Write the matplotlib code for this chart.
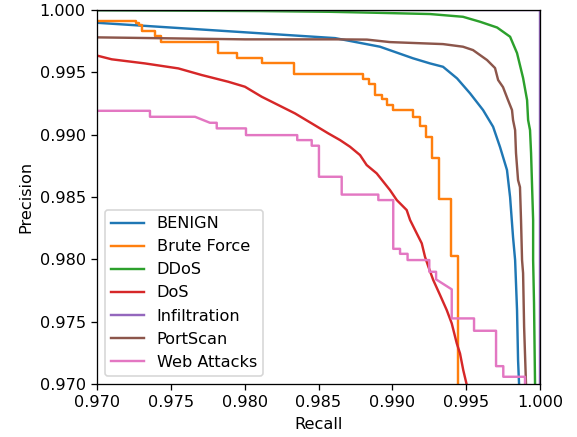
import numpy as np
import matplotlib
matplotlib.use('Agg')
import matplotlib.pyplot as plt

# precision-recall curves, values
benign_r = [0.960, 0.970, 0.98612, 0.98916, 0.99140, 0.99255, 0.99343, 0.99438, 0.99526,
            0.99614, 0.99682, 0.99729, 0.99776, 0.99797, 0.99817, 0.99831, 0.99844,
            0.99851, 0.99858, 0.99870]
benign_p = [0.99960, 0.99898, 0.99775, 0.99706, 0.99613, 0.99572, 0.99545, 0.99452, 0.99332,
            0.99198, 0.99064, 0.98901, 0.98717, 0.98500, 0.98179, 0.97995, 0.97594,
            0.97193, 0.96992, 0.96000]

bf_r = [0.960, 0.97264, 0.97264, 0.97284, 0.97284, 0.97303, 0.97303, 0.97393, 0.97393,
        0.97433, 0.97433, 0.97821, 0.97821, 0.97950, 0.97950, 0.98115, 0.98115,
        0.98334, 0.98334, 0.98803, 0.98803, 0.98844, 0.98844, 0.98883, 0.98883,
        0.98928, 0.98928, 0.98966, 0.98966, 0.99006, 0.99006, 0.99140, 0.99140,
        0.99184, 0.99184, 0.99228, 0.99228, 0.99269, 0.99269, 0.99314, 0.99314,
        0.99399, 0.99399, 0.99443, 0.99443]
bf_p = [0.99914, 0.99914, 0.99897, 0.99897, 0.99880, 0.99880, 0.99834, 0.99834, 0.99791,
        0.99791, 0.99741, 0.99741, 0.99658, 0.99658, 0.99613, 0.99613, 0.99572,
        0.99572, 0.99487, 0.99487, 0.99444, 0.99444, 0.99406, 0.99406, 0.99318,
        0.99318, 0.99284, 0.99284, 0.99238, 0.99238, 0.99198, 0.99198, 0.99142,
        0.99142, 0.99070, 0.99070, 0.98984, 0.98984, 0.98817, 0.98817, 0.98482,
        0.98482, 0.98027, 0.98027, 0.96000]

ddos_r = [0.960, 0.970, 0.98104, 0.98578, 0.98896, 0.99255, 0.99478, 0.99594, 0.99709,
          0.99797, 0.99844, 0.99885, 0.99912, 0.99919, 0.99932, 0.99939, 0.99946,
          0.99953, 0.99953, 0.99959, 0.99966, 0.99970]
ddos_p = [1.00000, 0.99998, 0.99992, 0.99986, 0.99978, 0.99968, 0.99946, 0.99906, 0.99860,
          0.99786, 0.99655, 0.99455, 0.99278, 0.99118, 0.99037, 0.98853, 0.98580,
          0.98316, 0.97995, 0.97650, 0.96992, 0.96000]

dos_r = [0.960, 0.970, 0.97100, 0.97325, 0.97551, 0.97709, 0.97889, 0.98002, 0.98115,
         0.98228, 0.98341, 0.98454, 0.98566, 0.98646, 0.98713, 0.98781, 0.98826,
         0.98894, 0.98939, 0.98984, 0.99030, 0.99097, 0.99120, 0.99165, 0.99199,
         0.99221, 0.99244, 0.99277, 0.99323, 0.99368, 0.99402, 0.99436, 0.99458,
         0.99480, 0.99504, 0.99520]
dos_p = [0.99700, 0.99635, 0.99605, 0.99572, 0.99532, 0.99479, 0.99425, 0.99385, 0.99305,
         0.99238, 0.99171, 0.99091, 0.99011, 0.98957, 0.98904, 0.98837, 0.98757,
         0.98690, 0.98623, 0.98556, 0.98476, 0.98396, 0.98316, 0.98209, 0.98129,
         0.98021, 0.97941, 0.97834, 0.97714, 0.97594, 0.97487, 0.97327, 0.97246,
         0.97112, 0.96992, 0.96000]

infil_r = [0.0, 1.0, 1.0]
infil_p = [1.0, 1.0, 0.0]

ps_r = [0.960, 0.970, 0.98002, 0.98612, 0.98828, 0.98984, 0.99343, 0.99478, 0.99546,
        0.99641, 0.99695, 0.99716, 0.99749, 0.99783, 0.99810, 0.99817, 0.99831,
        0.99837, 0.99851, 0.99864, 0.99871, 0.99878, 0.99885, 0.99892, 0.99905, 0.99910]
ps_p = [0.99790, 0.99781, 0.99765, 0.99765, 0.99763, 0.99743, 0.99727, 0.99706, 0.99679,
        0.99599, 0.99535, 0.99439, 0.99382, 0.99278, 0.99198, 0.99118, 0.99037,
        0.98853, 0.98636, 0.98580, 0.98316, 0.97995, 0.97890, 0.97457, 0.96992, 0.96000]

web_r = [0.960, 0.97359, 0.97359, 0.97664, 0.97765, 0.97811, 0.97811, 0.98009, 0.98009,
         0.98356, 0.98356, 0.98454, 0.98454, 0.98503, 0.98503, 0.98657, 0.98657,
         0.98905, 0.98905, 0.99006, 0.99006, 0.99052, 0.99052, 0.99103, 0.99103,
         0.99250, 0.99250, 0.99296, 0.99296, 0.99402, 0.99402, 0.99553, 0.99553,
         0.99702, 0.99702, 0.99751, 0.99751, 0.99898, 0.99898]
web_p = [0.99192, 0.99192, 0.99144, 0.99144, 0.99096, 0.99096, 0.99051, 0.99051, 0.98997,
         0.98997, 0.98957, 0.98957, 0.98912, 0.98912, 0.98663, 0.98663, 0.98520,
         0.98520, 0.98476, 0.98476, 0.98085, 0.98085, 0.98045, 0.98045, 0.97995,
         0.97995, 0.97901, 0.97901, 0.97840, 0.97760, 0.97527, 0.97527, 0.97428,
         0.97428, 0.97144, 0.97144, 0.97059, 0.97059, 0.96000]

curves = [('BENIGN', benign_r, benign_p), ('Brute Force', bf_r, bf_p),
          ('DDoS', ddos_r, ddos_p), ('DoS', dos_r, dos_p),
          ('Infiltration', infil_r, infil_p), ('PortScan', ps_r, ps_p),
          ('Web Attacks', web_r, web_p)]

dpi = 116
fig, ax = plt.subplots(figsize=(577 / dpi, 437 / dpi), dpi=dpi)
for name, r, p in curves:
    ax.plot(r, p, label=name)

ax.set_xlim(0.97, 1.0)
ax.set_ylim(0.97, 1.0)
ticks = np.arange(0.970, 1.0001, 0.005)
ax.set_xticks(ticks)
ax.set_yticks(ticks)
ax.set_xticklabels([f'{t:.3f}' for t in ticks])
ax.set_yticklabels([f'{t:.3f}' for t in ticks])
ax.set_xlabel('Recall')
ax.set_ylabel('Precision')
ax.legend(loc='lower left')
fig.subplots_adjust(left=0.168, right=0.936, top=0.977, bottom=0.121)

fig.savefig('out.png', dpi=dpi)
